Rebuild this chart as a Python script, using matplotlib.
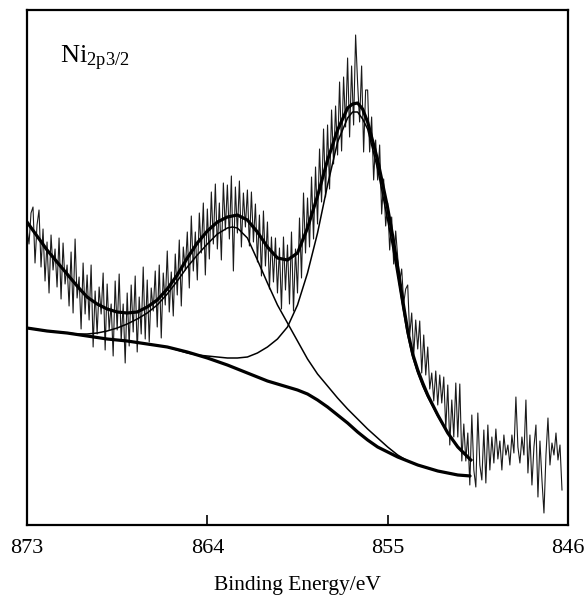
import numpy as np
import matplotlib
matplotlib.use("Agg")
import matplotlib.pyplot as plt

plt.rcParams['font.family'] = ['Liberation Serif', 'DejaVu Serif']
plt.rcParams['mathtext.fontset'] = 'custom'
plt.rcParams['mathtext.rm'] = 'Liberation Serif'
plt.rcParams['mathtext.it'] = 'Liberation Serif:italic'

# ---- measured spectrum (binding energy from 873.0 eV down in 0.1 eV steps) ----
intensity = [
    296, 281, 312, 318, 262, 300, 315, 258, 296, 244,
    283, 232, 290, 255, 276, 238, 287, 226, 282, 241,
    260, 219, 273, 212, 286, 227, 248, 196, 262, 211,
    250, 205, 260, 178, 234, 191, 238, 211, 252, 175,
    241, 195, 221, 169, 244, 195, 251, 184, 221, 162,
    232, 179, 240, 193, 249, 173, 228, 191, 258, 186,
    245, 183, 237, 214, 254, 198, 260, 187, 252, 220,
    274, 213, 253, 209, 271, 230, 285, 219, 278, 255,
    293, 237, 309, 254, 293, 245, 312, 272, 322, 250,
    316, 266, 333, 281, 341, 276, 322, 265, 342, 295,
    340, 286, 349, 254, 338, 292, 344, 278, 332, 298,
    335, 279, 333, 283, 321, 263, 310, 249, 314, 259,
    303, 236, 288, 243, 287, 232, 277, 216, 288, 235,
    280, 221, 293, 214, 276, 232, 307, 247, 332, 272,
    327, 278, 348, 286, 358, 301, 376, 323, 396, 328,
    400, 336, 415, 361, 419, 370, 443, 374, 448, 398,
    467, 388, 459, 400, 490, 442, 403, 459, 373, 435,
    435, 373, 408, 345, 385, 345, 380, 311, 346, 299,
    322, 275, 308, 261, 294, 268, 244, 256, 222, 236,
    240, 190, 212, 170, 205, 176, 204, 152, 190, 150,
    178, 136, 152, 124, 154, 120, 150, 122, 148, 96,
    140, 80, 125, 88, 142, 88, 141, 64, 101, 64,
    92, 40, 110, 55, 38,
    112, 60, 45, 95, 42, 100, 55, 88, 62, 96,
    66, 84, 55, 90, 70, 80, 60, 90, 72, 128,
    78, 62, 88, 70, 125, 52, 90, 40, 78, 100,
    28, 84, 45, 12, 70, 107, 60, 82, 70, 92,
    65, 80, 35,
]
energy = np.round(873.0 - 0.1 * np.arange(len(intensity)), 1)

# ---- fitted curves ----
bg_E = [873.0, 872.0, 871.0, 870.0, 869.0, 868.0, 867.0, 866.0, 865.0, 864.0,
        863.0, 862.0, 861.0, 860.0, 859.5, 859.0, 858.5, 858.0, 857.5, 857.0,
        856.5, 856.0, 855.5, 855.0, 854.5, 854.0, 853.5, 853.0, 852.5, 852.0,
        851.5, 850.85]
bg_I = [197, 194, 192, 189, 186, 184, 181, 178, 173, 167,
        160, 152, 144, 138, 135, 131, 125, 118, 110, 102,
        93, 85, 78, 73, 68, 64, 60, 57, 54, 52,
        50, 49]

sat_E = [873.0, 872.0, 871.0, 870.5, 870.0, 869.5, 869.0, 868.5, 868.0, 867.5, 867.0,
         866.5, 866.0, 865.5, 865.0, 864.5, 864.0, 863.5, 863.0, 862.75, 862.5,
         862.0, 861.5, 861.0, 860.5, 860.0, 859.5, 859.0, 858.5, 858.0, 857.5,
         857.0, 856.5, 856.0, 855.5, 855.0, 854.5, 854.0, 853.5, 853.0, 852.5,
         852.0, 851.5, 850.85]
sat_I = [197, 194, 192, 191, 191, 192, 194, 197, 201, 206, 212,
         220, 231, 244, 258, 270, 281, 291, 297, 298, 297,
         287, 265, 242, 220, 202, 184, 166, 151, 139, 127,
         116, 106, 96, 87, 78, 70, 64, 60, 57, 54,
         52, 50, 49]

main_E = [873.0, 872.0, 871.0, 870.0, 869.0, 868.0, 867.0, 866.0, 865.5, 865.0,
          864.5, 864.0, 863.5, 863.0, 862.5, 862.0, 861.5, 861.0, 860.5, 860.0,
          859.5, 859.0, 858.5, 858.0, 857.5, 857.0, 856.75, 856.5, 856.25, 856.0,
          855.5, 855.0, 854.75, 854.5, 854.25, 854.0, 853.75, 853.5, 853.25, 853.0,
          852.5, 852.0, 851.5, 850.85]
main_I = [197, 194, 192, 189, 186, 184, 181, 178, 175, 172,
          170, 169, 168, 167, 167, 168, 172, 178, 186, 198,
          220, 252, 292, 340, 383, 407, 413, 413, 406, 396,
          356, 305, 278, 248, 218, 190, 168, 152, 139, 128,
          109, 92, 78, 65]

env_E = [873.0, 872.5, 872.0, 871.5, 871.0, 870.5, 870.0, 869.5, 869.0, 868.5,
         868.0, 867.5, 867.0, 866.5, 866.0, 865.5, 865.0, 864.5, 864.0, 863.5,
         863.0, 862.5, 862.0, 861.5, 861.0, 860.5, 860.0, 859.5, 859.0, 858.5,
         858.0, 857.5, 857.0, 856.75, 856.5, 856.25, 856.0, 855.5, 855.0, 854.75,
         854.5, 854.25, 854.0, 853.75, 853.5, 853.25, 853.0, 852.5, 852.0, 851.5,
         850.85]
env_I = [303, 289, 275, 263, 251, 239, 228, 221, 216, 213,
         212, 213, 218, 225, 236, 250, 267, 282, 294, 303,
         308, 310, 305, 293, 278, 267, 265, 272, 297, 329,
         365, 395, 417, 421, 422, 416, 403, 365, 317, 289,
         258, 225, 194, 171, 155, 142, 130, 110, 92, 78,
         65]

xticks = [873, 864, 855, 846]
xlabel = "Binding Energy/eV"
peak_label = r"$\mathrm{Ni}_{\mathrm{2p3/2}}$"

fig = plt.figure(figsize=(5.85, 6.02), dpi=100)
ax = fig.add_axes([27/585, 1-525/602, 541/585, 515/602])

ax.plot(energy, intensity, color='#1a1a1a', lw=0.8, zorder=2)
ax.plot(bg_E, bg_I, color='black', lw=2.3, solid_capstyle='butt', zorder=3)
ax.plot(sat_E, sat_I, color='black', lw=1.1, zorder=3)
ax.plot(main_E, main_I, color='black', lw=1.1, zorder=3)
ax.plot(env_E, env_I, color='black', lw=2.3, zorder=4)

ax.set_xlim(873, 846)
ax.set_ylim(0, 515)
ax.set_xticks(xticks)
ax.set_xticklabels([str(t) for t in xticks], fontsize=16)
ax.set_yticks([])
ax.tick_params(axis='x', direction='in', length=7, width=1.2, pad=10)
for s in ax.spines.values():
    s.set_linewidth(1.6)
ax.set_xlabel(xlabel, fontsize=15.5, labelpad=13)
ax.text(0.061, 0.897, peak_label, transform=ax.transAxes, fontsize=19,
        ha='left', va='baseline')

fig.savefig("out.png", dpi=100)
